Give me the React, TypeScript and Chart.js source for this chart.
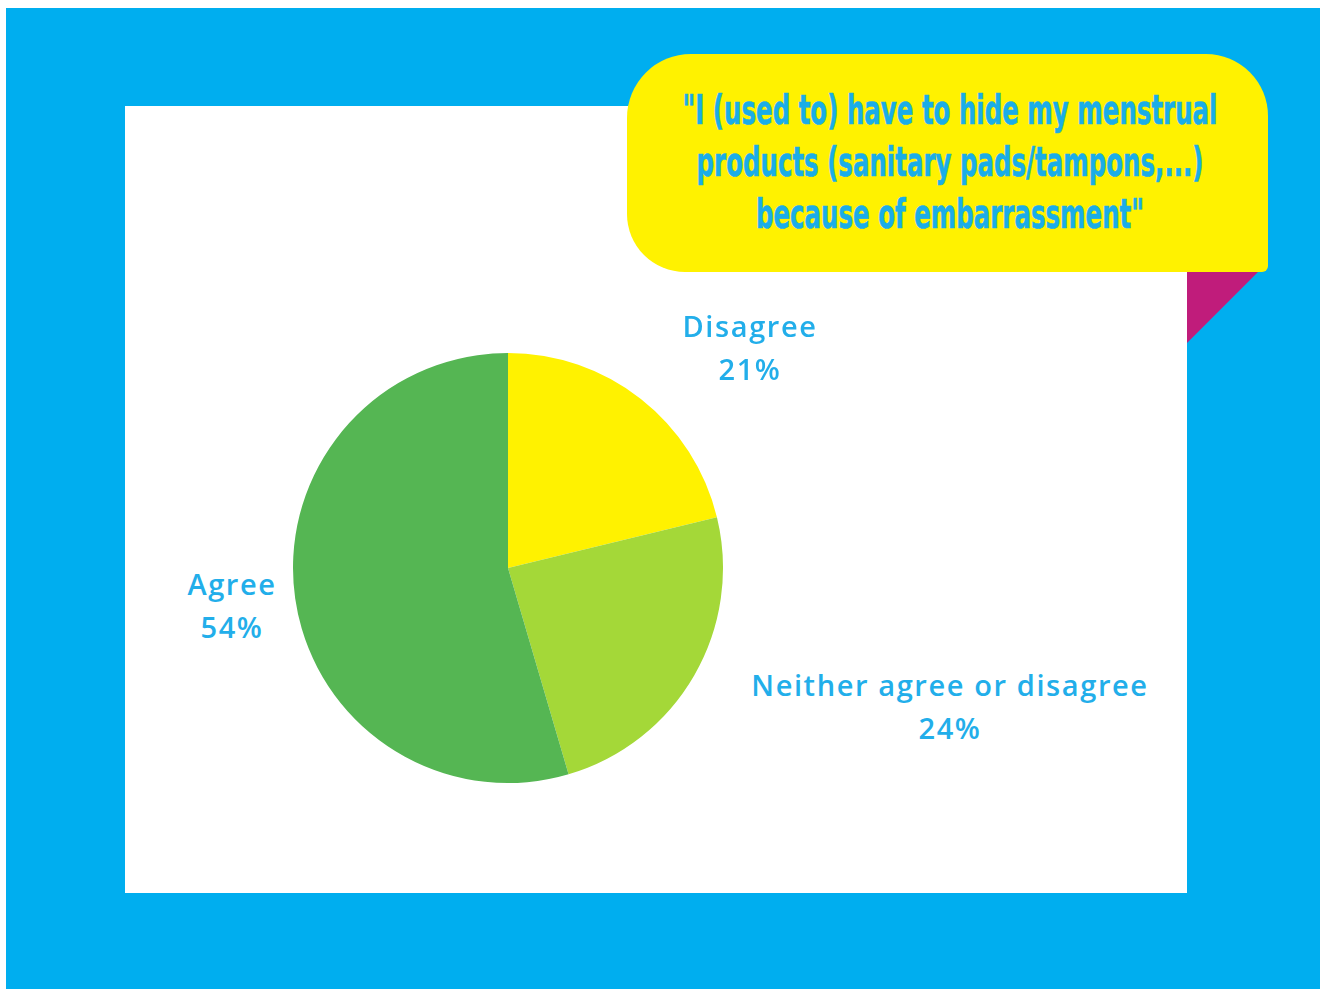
import React, { useEffect, useRef } from "react";
import { Chart, registerables } from "chart.js";

Chart.register(...registerables);

const categories = ["Disagree", "Neither agree or disagree", "Agree"];
const values = [21, 24, 54];
const percentLabels = ["21%", "24%", "54%"];
const sliceColors = ["#FFF200", "#A4D838", "#55B653"];
const quoteLines = [
  "\"I (used to) have to hide my menstrual",
  "products (sanitary pads/tampons,...)",
  "because of embarrassment\"",
];

const BLUE = "#00AEEF";
const LABEL_BLUE = "#22AEEA";

const labelPos = [
  { x: 750, y: 326 },
  { x: 950, y: 685 },
  { x: 232, y: 584 },
];

export default function App() {
  const ref = useRef<HTMLCanvasElement | null>(null);

  useEffect(() => {
    document.body.style.margin = "0";
    if (!ref.current) return;
    const chart = new Chart(ref.current, {
      type: "pie",
      data: {
        labels: categories,
        datasets: [
          {
            data: values,
            backgroundColor: sliceColors,
            borderWidth: 0,
          },
        ],
      },
      options: {
        responsive: false,
        animation: false,
        radius: 215,
        layout: { padding: 0 },
        plugins: {
          legend: { display: false },
          tooltip: { enabled: false },
        },
      },
    });
    return () => chart.destroy();
  }, []);

  return (
    <div
      style={{
        position: "absolute",
        left: 0,
        top: 0,
        width: 1327,
        height: 989,
        background: "#ffffff",
        overflow: "hidden",
      }}
    >
      <div
        style={{
          position: "absolute",
          left: 6,
          top: 8,
          width: 1314,
          height: 990,
          background: BLUE,
        }}
      />
      <div
        style={{
          position: "absolute",
          left: 125,
          top: 106,
          width: 1062,
          height: 787,
          background: "#ffffff",
        }}
      />
      <div
        style={{
          position: "absolute",
          left: 1187,
          top: 272,
          width: 71,
          height: 71,
          background: "#C01C7B",
          clipPath: "polygon(0 0, 100% 0, 0 100%)",
        }}
      />
      <div
        style={{
          position: "absolute",
          left: 627,
          top: 54,
          width: 641,
          height: 218,
          background: "#FFF200",
          borderRadius: "64px 62px 6px 58px",
        }}
      />
      {quoteLines.map((t, i) => (
        <div
          key={i}
          style={{
            position: "absolute",
            left: 950,
            top: 110 + i * 52,
            transform: "translate(-50%, -50%) scaleX(0.68)",
            whiteSpace: "nowrap",
            fontFamily: "'DejaVu Sans Condensed', 'Liberation Sans Narrow', sans-serif",
            fontWeight: 700,
            fontSize: 40,
            lineHeight: "40px",
            color: "#1AADE8",
            WebkitTextStroke: "0.6px #1AADE8",
          }}
        >
          {t}
        </div>
      ))}
      <canvas
        ref={ref}
        width={450}
        height={450}
        style={{ position: "absolute", left: 283, top: 343, width: 450, height: 450 }}
      />
      {categories.map((c, i) => (
        <div
          key={c}
          style={{
            position: "absolute",
            left: labelPos[i].x,
            top: labelPos[i].y,
            transform: "translate(-50%, -50%)",
            textAlign: "center",
            whiteSpace: "nowrap",
            fontFamily: "'Open Sans', sans-serif",
            fontWeight: 600,
            fontSize: 29,
            lineHeight: "43px",
            letterSpacing: 1.6,
            color: LABEL_BLUE,
            marginTop: 21,
          }}
        >
          <div>{c}</div>
          <div>{percentLabels[i]}</div>
        </div>
      ))}
    </div>
  );
}
